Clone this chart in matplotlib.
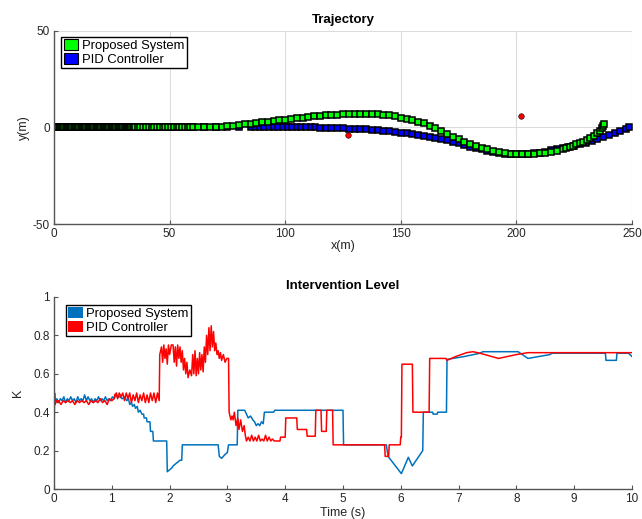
import matplotlib.pyplot as plt
from matplotlib.patches import Patch

plt.rcParams['font.family'] = ['Liberation Sans', 'DejaVu Sans']
plt.rcParams['axes.unicode_minus'] = False

# ---- trajectory (top) ----
prop_x = [0.0, 0.5, 1.0, 1.5, 2.0, 2.5, 3.0, 3.5, 4.0, 4.5, 5.0, 5.5, 6.0, 6.5, 7.0, 7.5,
          8.0, 8.5, 9.0, 9.5, 10.0, 10.5, 11.0, 11.5, 12.0, 12.5, 13.0, 13.5, 14.0, 14.5,
          15.0, 15.5, 16.0, 16.5, 17.0, 17.5, 18.0, 18.5, 19.0, 19.5, 20.0, 20.5, 21.0,
          21.5, 22.0, 22.5, 23.0, 23.5, 24.0, 24.5, 25.0, 25.5, 26.0, 26.5, 27.0, 27.5,
          28.0, 28.5, 29.0, 29.5, 30.0, 30.5, 31.0, 31.5, 32.0, 32.5, 33.0, 33.5, 34.0,
          34.5, 35.0,
          36.2, 37.4, 38.6, 39.8, 41.0, 42.2, 43.4, 44.6, 45.8, 47.0, 48.2, 49.4, 50.6,
          51.8, 53.0, 54.2, 55.4, 56.6, 57.8, 59.0, 60.2,
          62.5, 65.0, 67.5, 70.0, 72.5, 75.0, 77.5, 80.0, 82.5, 85.0, 87.5, 90.0, 92.5,
          95.0, 97.5, 100.0, 102.5, 105.0, 107.5, 110.0, 112.5, 115.0, 117.5, 120.0,
          122.5, 125.0, 127.5, 130.0, 132.5, 135.0, 137.5, 140.0, 142.5, 145.0, 147.5,
          150.0, 152.5, 155.0, 157.5, 160.0, 162.5, 165.0, 167.5, 170.0, 172.5, 175.0,
          177.5, 180.0, 182.5, 185.0, 187.5, 190.0, 192.5, 195.0, 197.5, 200.0, 202.5,
          205.0, 207.5, 210.0, 212.5, 215.0, 217.5, 220.0,
          221.5, 223.0, 224.5, 226.0, 227.5, 229.0, 230.5, 232.0, 233.5, 235.0, 236.0,
          237.0, 237.5, 238.0]
prop_y = [0, 0, 0, 0, 0, 0, 0, 0, 0, 0, 0, 0, 0, 0, 0, 0,
          0, 0, 0, 0, 0, 0, 0, 0, 0, 0, 0, 0, 0, 0,
          0, 0, 0, 0, 0, 0, 0, 0, 0, 0, 0, 0, 0,
          0, 0, 0, 0, 0, 0, 0, 0, 0, 0, 0, 0, 0,
          0, 0, 0, 0, 0, 0, 0, 0, 0, 0, 0, 0, 0,
          0, 0,
          0, 0, 0, 0, 0, 0, 0, 0, 0, 0, 0, 0, 0,
          0, 0, 0, 0, 0, 0, 0, 0,
          0.0, 0.1, 0.2, 0.3, 0.5, 0.7, 0.9, 1.2, 1.6, 1.9, 2.3, 2.7, 3.1,
          3.5, 3.8, 4.1, 4.4, 4.7, 5.0, 5.3, 5.7, 6.0, 6.3, 6.5,
          6.7, 6.8, 6.9, 7.0, 7.0, 7.0, 6.9, 6.8, 6.6, 6.3, 5.7,
          5.1, 4.5, 3.9, 3.1, 2.1, 1.0, -0.2, -1.6, -3.2, -4.7, -6.0,
          -7.3, -8.5, -9.6, -10.6, -11.4, -12.1, -12.7, -13.1, -13.5, -13.8, -13.9,
          -13.9, -13.7, -13.4, -13.0, -12.6, -12.1, -11.3,
          -10.8, -10.1, -9.4, -8.7, -8.0, -7.3, -6.5, -5.4, -4.2, -2.6, -1.6,
          -0.5, 0.6, 1.6]

pid_x = [0, 5, 10, 15, 20, 25, 30, 35, 40, 45, 50, 55, 60, 65, 70, 75, 80, 85,
         87, 89, 91, 93, 95, 97, 99, 101, 103, 105, 107, 109, 111, 113,
         115.0, 117.5, 120.0, 122.5, 125.0, 127.5, 130.0, 132.5, 135.0, 137.5, 140.0,
         142.5, 145.0, 147.5, 150.0, 152.5, 155.0, 157.5, 160.0, 162.5, 165.0, 167.5,
         170.0, 172.5, 175.0, 177.5, 180.0, 182.5, 185.0, 187.5, 190.0, 192.5, 195.0,
         197.5, 200.0, 202.5, 205.0, 207.5, 210.0, 212.5, 215.0, 217.5, 220.0, 222.5,
         225.0, 227.5, 230.0, 232.5, 235.0, 237.5, 240.0, 242.5, 245.0, 247.5, 248.5]
pid_y = [0, 0, 0, 0, 0, 0, 0, 0, 0, 0, 0, 0, 0, 0, 0, 0, 0, 0,
         0, 0, 0, 0, 0, 0, 0, 0, 0, 0, 0, 0, 0, 0,
         -0.1, -0.2, -0.3, -0.4, -0.5, -0.6, -0.7, -0.8, -1.0, -1.2, -1.4,
         -1.6, -1.9, -2.2, -2.6, -3.0, -3.4, -3.8, -4.3, -4.8, -5.3, -5.9,
         -6.6, -7.3, -8.2, -9.0, -9.9, -10.7, -11.4, -12.1, -12.6, -13.1, -13.5,
         -13.8, -13.9, -13.9, -13.7, -13.4, -13.0, -12.5, -11.9, -11.4, -10.7, -10.0,
         -9.4, -8.7, -8.0, -7.0, -5.9, -4.8, -3.8, -2.8, -1.7, -0.6, 0.0]

obstacle_x = [127, 202]
obstacle_y = [-4, 6]

# ---- intervention level (bottom) ----
t_prop = [0.00, 0.01, 0.05, 0.08, 0.11, 0.14, 0.17, 0.20, 0.23, 0.26, 0.29, 0.32, 0.35,
          0.38, 0.41, 0.44, 0.47, 0.50, 0.53, 0.56, 0.59, 0.62, 0.65, 0.68, 0.71, 0.74,
          0.77, 0.80, 0.83, 0.86, 0.89, 0.92, 0.95, 0.98, 1.01, 1.04, 1.07, 1.10, 1.14,
          1.18, 1.22, 1.26, 1.29, 1.31, 1.34, 1.36, 1.39, 1.41, 1.44, 1.46, 1.49, 1.52,
          1.55, 1.56, 1.60, 1.61, 1.66, 1.67, 1.71, 1.72, 1.95, 1.96, 2.00, 2.04, 2.06,
          2.10, 2.14, 2.18, 2.21, 2.22, 2.84, 2.86, 2.90, 2.96, 3.00, 3.02, 3.17, 3.18,
          3.30, 3.33, 3.36, 3.40, 3.44, 3.47, 3.50, 3.53, 3.56, 3.59, 3.62, 3.64, 3.80,
          3.82, 5.00, 5.01, 5.75, 5.78, 6.01, 6.13, 6.20, 6.38, 6.39, 6.55, 6.56, 6.63,
          6.64, 6.79, 6.80, 6.90, 7.10, 7.37, 7.42, 8.03, 8.20, 8.58, 8.62, 9.54, 9.55,
          9.73, 9.74, 9.94, 10.00]
k_prop = [0.50, 0.45, 0.47, 0.45, 0.47, 0.46, 0.48, 0.45, 0.47, 0.46, 0.48, 0.46, 0.47,
          0.45, 0.48, 0.46, 0.47, 0.46, 0.49, 0.46, 0.48, 0.46, 0.47, 0.45, 0.47, 0.46,
          0.48, 0.46, 0.47, 0.46, 0.48, 0.46, 0.47, 0.46, 0.48, 0.47, 0.49, 0.48, 0.48,
          0.47, 0.48, 0.46, 0.47, 0.44, 0.45, 0.43, 0.44, 0.42, 0.43, 0.40, 0.41, 0.39,
          0.39, 0.37, 0.37, 0.35, 0.35, 0.30, 0.30, 0.25, 0.25, 0.09, 0.10, 0.11, 0.12,
          0.13, 0.14, 0.15, 0.15, 0.23, 0.23, 0.17, 0.16, 0.18, 0.19, 0.23, 0.23, 0.41,
          0.41, 0.39, 0.37, 0.38, 0.36, 0.35, 0.33, 0.34, 0.33, 0.35, 0.34, 0.40, 0.40,
          0.41, 0.41, 0.23, 0.23, 0.17, 0.08, 0.165, 0.12, 0.20, 0.40, 0.40, 0.39, 0.39,
          0.40, 0.40, 0.675, 0.68, 0.69, 0.707, 0.715, 0.715, 0.68, 0.70, 0.707, 0.707, 0.67,
          0.67, 0.707, 0.707, 0.69]

t_pid = [0.00, 0.01, 0.02, 0.04, 0.06, 0.08, 0.12, 0.16, 0.20, 0.24, 0.28, 0.32, 0.36,
         0.40, 0.44, 0.48, 0.52, 0.56, 0.60, 0.64, 0.68, 0.72, 0.76, 0.80, 0.84, 0.88,
         0.92, 0.96, 1.00, 1.04, 1.05, 1.08, 1.10, 1.13, 1.16, 1.19, 1.22, 1.25, 1.28,
         1.31, 1.34, 1.37, 1.40, 1.43, 1.46, 1.49, 1.52, 1.55, 1.58, 1.61, 1.64, 1.67,
         1.70, 1.73, 1.76, 1.79, 1.82, 1.83, 1.86, 1.88, 1.90, 1.92, 1.94, 1.96, 1.98,
         2.00, 2.03, 2.06, 2.08, 2.10, 2.12, 2.14, 2.16, 2.18, 2.20, 2.22, 2.24, 2.26,
         2.28, 2.30, 2.32, 2.35, 2.38, 2.40, 2.42, 2.44, 2.46, 2.48, 2.50, 2.52, 2.54,
         2.56, 2.58, 2.60, 2.62, 2.64, 2.66, 2.68, 2.70, 2.72, 2.74, 2.76, 2.78, 2.80,
         2.82, 2.84, 2.86, 2.88, 2.90, 2.93, 2.96, 2.99, 3.02, 3.03, 3.06, 3.08, 3.10,
         3.12, 3.15, 3.18, 3.20, 3.23, 3.26, 3.29, 3.31, 3.33, 3.36, 3.39, 3.42, 3.45,
         3.48, 3.51, 3.54, 3.57, 3.60, 3.63, 3.66, 3.69, 3.72, 3.75, 3.78, 3.81, 3.91,
         3.92, 4.00, 4.01, 4.20, 4.21, 4.37, 4.38, 4.52, 4.53, 4.62, 4.63, 4.71, 4.72,
         4.82, 4.83, 5.72, 5.73, 5.79, 5.80, 5.99, 6.00, 6.01, 6.02, 6.20, 6.21, 6.49,
         6.50, 6.78, 6.80, 6.95, 7.14, 7.25, 7.37, 7.69, 8.00, 8.20, 10.00]
k_pid = [0.25, 0.50, 0.44, 0.46, 0.45, 0.46, 0.44, 0.46, 0.45, 0.46, 0.45, 0.46, 0.44,
         0.46, 0.45, 0.46, 0.45, 0.46, 0.44, 0.46, 0.45, 0.46, 0.45, 0.47, 0.45, 0.46,
         0.44, 0.47, 0.46, 0.47, 0.49, 0.50, 0.47, 0.50, 0.48, 0.50, 0.46, 0.50, 0.47,
         0.50, 0.45, 0.49, 0.46, 0.50, 0.45, 0.49, 0.46, 0.50, 0.45, 0.49, 0.45, 0.50,
         0.46, 0.50, 0.45, 0.50, 0.46, 0.70, 0.74, 0.66, 0.75, 0.68, 0.73, 0.65, 0.75,
         0.70, 0.75, 0.75, 0.66, 0.74, 0.64, 0.75, 0.68, 0.74, 0.66, 0.72, 0.62, 0.68,
         0.60, 0.66, 0.58, 0.62, 0.59, 0.70, 0.60, 0.72, 0.59, 0.68, 0.60, 0.71, 0.62,
         0.70, 0.61, 0.74, 0.66, 0.80, 0.70, 0.84, 0.72, 0.85, 0.74, 0.82, 0.72, 0.76,
         0.70, 0.72, 0.68, 0.71, 0.67, 0.70, 0.66, 0.68, 0.68, 0.40, 0.36, 0.38, 0.36,
         0.40, 0.33, 0.37, 0.31, 0.36, 0.30, 0.33, 0.28, 0.25, 0.27, 0.25, 0.28, 0.25,
         0.27, 0.25, 0.28, 0.25, 0.26, 0.25, 0.28, 0.25, 0.27, 0.25, 0.26, 0.25, 0.25,
         0.27, 0.27, 0.37, 0.37, 0.31, 0.31, 0.275, 0.275, 0.41, 0.41, 0.30, 0.30, 0.41,
         0.41, 0.23, 0.23, 0.17, 0.17, 0.23, 0.23, 0.27, 0.27, 0.65, 0.65, 0.40, 0.40,
         0.68, 0.68, 0.67, 0.69, 0.71, 0.715, 0.707, 0.68, 0.70, 0.71, 0.71]

traj_xticks = [0, 50, 100, 150, 200, 250]
traj_yticks = [-50, 0, 50]
k_ticks = [0, 0.2, 0.4, 0.6, 0.8, 1]
k_ticklabels = ['0', '0.2', '0.4', '0.6', '0.8', '1']
time_ticks = [0, 1, 2, 3, 4, 5, 6, 7, 8, 9, 10]
legend_labels = ['Proposed System', 'PID Controller']

green = '#00ff00'
blue_sq = '#0000ff'
matlab_blue = '#0072bd'
red = '#ff0000'
axis_col = '#555555'
txt_col = '#262626'

fig = plt.figure(figsize=(6.42, 5.19), dpi=100)
ax1 = fig.add_axes([0.0841, 0.5684, 0.9003, 0.3719])
ax2 = fig.add_axes([0.0841, 0.0578, 0.9003, 0.3700])

# top: trajectory
ax1.plot(pid_x, pid_y, ls='none', marker='s', ms=4.2, mfc=blue_sq, mec='k', mew=1.1)
ax1.plot(prop_x, prop_y, ls='none', marker='s', ms=4.2, mfc=green, mec='k', mew=1.1)
ax1.plot(obstacle_x, obstacle_y, ls='none', marker='o', ms=4, mfc=red, mec='k', mew=0.4)
ax1.set_xlim(0, 250)
ax1.set_ylim(-50, 50)
ax1.set_xticks(traj_xticks)
ax1.set_yticks(traj_yticks)
ax1.grid(True, color='#dcdcdc', lw=0.8)
ax1.set_axisbelow(True)
ax1.set_title('Trajectory', fontsize=9.5, fontweight='bold', pad=6)
ax1.set_xlabel('x(m)', fontsize=9, labelpad=0, color=txt_col)
ax1.set_ylabel('y(m)', fontsize=9, labelpad=2, color=txt_col)
h1 = [Patch(facecolor=green, edgecolor='k', lw=0.8),
      Patch(facecolor=blue_sq, edgecolor='k', lw=0.8)]
leg1 = ax1.legend(h1, legend_labels, loc='upper left', bbox_to_anchor=(0.012, 0.97),
                  fontsize=9.4, fancybox=False, framealpha=1, edgecolor='k',
                  handlelength=1.1, handleheight=0.9, handletextpad=0.3,
                  labelspacing=0.05, borderpad=0.2, borderaxespad=0)
leg1.get_frame().set_linewidth(1.0)

# bottom: intervention level
ax2.plot(t_prop, k_prop, color=matlab_blue, lw=1.1)
ax2.plot(t_pid, k_pid, color=red, lw=1.1)
ax2.set_xlim(0, 10)
ax2.set_ylim(0, 1)
ax2.set_xticks(time_ticks)
ax2.set_yticks(k_ticks)
ax2.set_yticklabels(k_ticklabels)
ax2.set_title('Intervention Level', fontsize=9.5, fontweight='bold', pad=6)
ax2.set_xlabel('Time (s)', fontsize=9, labelpad=1, color=txt_col)
ax2.set_ylabel('K', fontsize=9, labelpad=7, color=txt_col)
h2 = [Patch(facecolor=matlab_blue, edgecolor='none'),
      Patch(facecolor=red, edgecolor='none')]
leg2 = ax2.legend(h2, legend_labels, loc='upper left', bbox_to_anchor=(0.02, 0.96),
                  fontsize=9.4, fancybox=False, framealpha=1, edgecolor='k',
                  handlelength=1.1, handleheight=0.9, handletextpad=0.3,
                  labelspacing=0.05, borderpad=0.2, borderaxespad=0)
leg2.get_frame().set_linewidth(1.0)

for ax in (ax1, ax2):
    for side in ('top', 'right'):
        ax.spines[side].set_visible(False)
    for side in ('left', 'bottom'):
        ax.spines[side].set_color(axis_col)
        ax.spines[side].set_linewidth(1.0)
    ax.tick_params(direction='in', length=3, width=0.8, colors=axis_col,
                   labelcolor=txt_col, labelsize=8.5, pad=3)

fig.savefig('out.png', dpi=100)
